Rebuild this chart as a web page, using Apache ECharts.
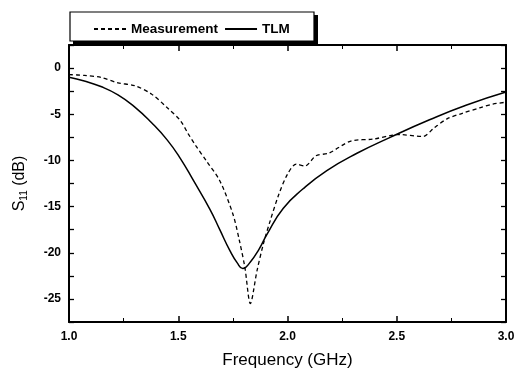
<!DOCTYPE html>
<html><head><meta charset="utf-8">
<script src="https://cdn.jsdelivr.net/npm/echarts@6/dist/echarts.min.js"></script>
<style>html,body{margin:0;padding:0;background:#fff}#c{width:516px;height:370px}</style>
</head><body><div id="c"></div>
<script>
const measFreq = [1.00,1.07,1.146,1.224,1.30,1.377,1.45,1.51,1.545,1.58,1.63,1.69,1.75,1.78,1.805,1.83,1.86,1.89,1.92,1.96,2.00,2.04,2.08,2.13,2.19,2.29,2.39,2.51,2.62,2.67,2.73,2.80,2.88,2.94,3.00];
const measDb   = [-0.7,-0.8,-1.0,-1.6,-1.9,-2.8,-4.3,-5.7,-7.1,-8.4,-10.1,-12.2,-15.8,-18.7,-21.6,-25.5,-22.0,-19.0,-16.6,-13.7,-11.5,-10.4,-10.6,-9.5,-9.2,-7.9,-7.7,-7.2,-7.4,-6.5,-5.5,-4.9,-4.3,-3.9,-3.7];
const tlmFreq  = [1.00,1.07,1.146,1.224,1.30,1.377,1.45,1.51,1.57,1.645,1.69,1.737,1.77,1.795,1.83,1.87,1.906,1.98,2.07,2.18,2.32,2.47,2.65,2.82,3.00];
const tlmDb    = [-1.0,-1.4,-2.0,-2.9,-4.2,-5.9,-7.8,-9.8,-12.2,-15.3,-17.5,-19.8,-21.1,-21.7,-21.0,-19.6,-18.0,-15.2,-13.1,-11.1,-9.2,-7.5,-5.6,-4.0,-2.6];
const seriesNames = ['Measurement','TLM'];
const xTitle = 'Frequency (GHz)';

const pair = (a,b)=>a.map((v,i)=>[v,b[i]]);
const chart = echarts.init(document.getElementById('c'));
const font = 'Liberation Sans, Arial, sans-serif';
const axisLine = {show:true, onZero:false, lineStyle:{color:'#000', width:2}};
chart.setOption({
  animation:false,
  grid:{left:69, right:10, top:45, bottom:48, outerBoundsMode:'none', containLabel:false},
  legend:{
    left:88, top:17, itemWidth:32, itemHeight:10, itemGap:6,
    itemStyle:{opacity:0},
    textStyle:{fontFamily:font, fontSize:13.5, fontWeight:'bold', color:'#000'},
    data:seriesNames
  },
  graphic:[
    {type:'rect', shape:{x:73,y:15,width:245,height:30}, style:{fill:'#000'}, z:-1},
    {type:'rect', shape:{x:70,y:12,width:244,height:29}, style:{fill:'#fff', stroke:'#000', lineWidth:1.2}, z:0}
  ],
  xAxis:[
    {type:'value', min:1, max:3, interval:0.5, axisLine,
     axisTick:{inside:true, length:6, lineStyle:{width:1.5}},
     minorTick:{show:true, splitNumber:2, length:4, lineStyle:{color:'#000'}},
     splitLine:{show:false},
     axisLabel:{fontFamily:font, fontSize:12, fontWeight:'bold', color:'#000', margin:9, formatter:v=>v.toFixed(1)},
     name:xTitle, nameLocation:'middle', nameGap:30,
     nameTextStyle:{fontFamily:font, fontSize:17, color:'#000'}},
    {type:'value', position:'top', min:1, max:3, interval:0.5, axisLine,
     axisTick:{inside:true, length:6, lineStyle:{width:1.5}},
     minorTick:{show:true, splitNumber:2, length:4, lineStyle:{color:'#000'}},
     splitLine:{show:false}, axisLabel:{show:false}}
  ],
  yAxis:[
    {type:'value', min:-27.5, max:2.5, interval:2.5, axisLine,
     axisTick:{inside:true, length:5, lineStyle:{width:1.3}},
     splitLine:{show:false},
     axisLabel:{fontFamily:font, fontSize:12, fontWeight:'bold', color:'#000', margin:8,
       formatter:v=>(Math.abs(v%5)<1e-9 ? String(v) : '')},
     name:'{s|S}{sub|11}{s| (dB)}', nameLocation:'middle', nameGap:40, nameRotate:90,
     nameTextStyle:{rich:{s:{fontFamily:font, fontSize:16, color:'#000'}, sub:{fontFamily:font, fontSize:10, color:'#000', verticalAlign:'bottom', padding:[8,0,0,0]}}}},
    {type:'value', position:'right', min:-27.5, max:2.5, interval:2.5, axisLine,
     axisTick:{inside:true, length:5, lineStyle:{width:1.3}},
     splitLine:{show:false}, axisLabel:{show:false}}
  ],
  series:[
    {name:seriesNames[0], type:'line', data:pair(measFreq,measDb), smooth:0.3, symbol:'none',
     lineStyle:{color:'#000', width:1.3, type:[4,3]}, itemStyle:{color:'#000'}},
    {name:seriesNames[1], type:'line', data:pair(tlmFreq,tlmDb), smooth:0.5, symbol:'none',
     lineStyle:{color:'#000', width:1.5}, itemStyle:{color:'#000'}}
  ]
});
</script></body></html>
